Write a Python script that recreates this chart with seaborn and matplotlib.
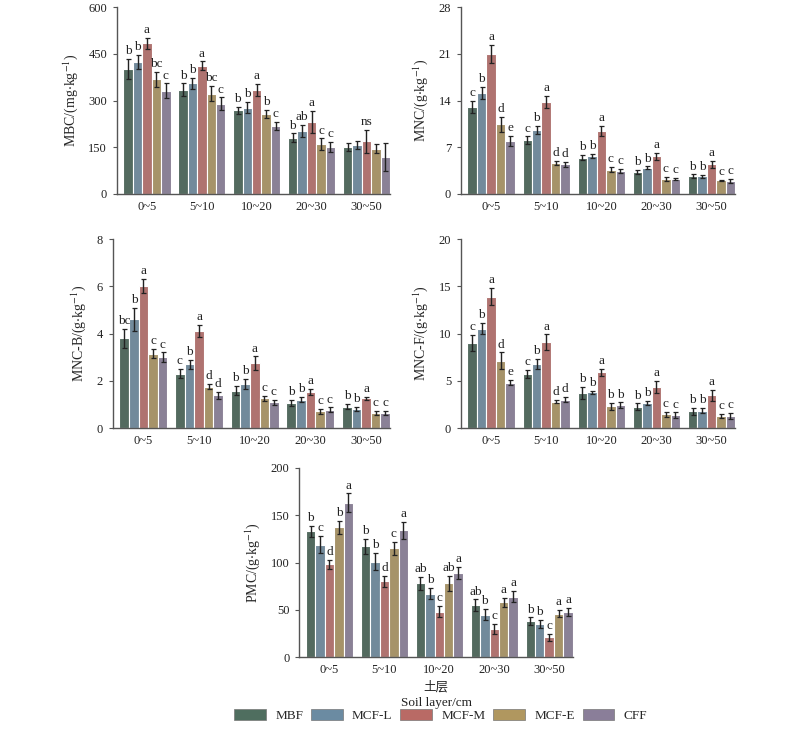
import numpy as np
import pandas as pd
import matplotlib
matplotlib.use('Agg')
import matplotlib.pyplot as plt
import seaborn as sns
from matplotlib.patches import Patch

# ---------------------------------------------------------------------------
# data
# ---------------------------------------------------------------------------
layers = ['0~5', '5~10', '10~20', '20~30', '30~50']
treatments = ['MBF', 'MCF-L', 'MCF-M', 'MCF-E', 'CFF']
colors = ['#4f6e5f', '#6b8ba2', '#b96a65', '#b0975f', '#8a7e99']

# values are [layer][treatment]
mbc = [[402, 425, 484, 368, 332],
       [335, 355, 412, 322, 290],
       [268, 277, 333, 258, 218],
       [180, 202, 231, 160, 150],
       [151, 157, 169, 145, 118]]
mbc_err = [[32, 23, 18, 24, 23],
           [20, 17, 14, 25, 20],
           [12, 18, 20, 13, 14],
           [14, 19, 35, 18, 17],
           [13, 13, 37, 15, 44]]
mbc_sig = [['b', 'b', 'a', 'bc', 'c'],
           ['b', 'b', 'a', 'bc', 'c'],
           ['b', 'b', 'a', 'b', 'c'],
           ['b', 'ab', 'a', 'c', 'c'],
           ['', '', 'ns', '', '']]

mnc = [[13.0, 15.1, 21.0, 10.4, 7.9],
       [8.0, 9.6, 13.8, 4.6, 4.4],
       [5.4, 5.7, 9.4, 3.6, 3.4],
       [3.3, 3.9, 5.6, 2.2, 2.2],
       [2.6, 2.6, 4.4, 2.0, 1.9]]
mnc_err = [[0.9, 0.9, 1.3, 1.1, 0.8],
           [0.6, 0.6, 0.9, 0.3, 0.4],
           [0.4, 0.3, 0.8, 0.4, 0.3],
           [0.3, 0.2, 0.5, 0.3, 0.2],
           [0.3, 0.2, 0.5, 0.1, 0.3]]
mnc_sig = [['c', 'b', 'a', 'd', 'e'],
           ['c', 'b', 'a', 'd', 'd'],
           ['b', 'b', 'a', 'c', 'c'],
           ['b', 'b', 'a', 'c', 'c'],
           ['b', 'b', 'a', 'c', 'c']]

mncb = [[3.8, 4.6, 6.0, 3.15, 3.0],
        [2.3, 2.7, 4.1, 1.75, 1.38],
        [1.58, 1.85, 2.75, 1.25, 1.08],
        [1.05, 1.2, 1.52, 0.7, 0.77],
        [0.9, 0.8, 1.25, 0.65, 0.65]]
mncb_err = [[0.4, 0.5, 0.3, 0.2, 0.2],
            [0.2, 0.2, 0.25, 0.1, 0.15],
            [0.2, 0.22, 0.28, 0.12, 0.1],
            [0.12, 0.12, 0.12, 0.1, 0.1],
            [0.1, 0.08, 0.07, 0.08, 0.08]]
mncb_sig = [['bc', 'b', 'a', 'c', 'c'],
            ['c', 'b', 'a', 'd', 'd'],
            ['b', 'b', 'a', 'c', 'c'],
            ['b', 'b', 'a', 'c', 'c'],
            ['b', 'b', 'a', 'c', 'c']]

mncf = [[9.0, 10.5, 13.9, 7.1, 4.8],
        [5.7, 6.8, 9.1, 2.8, 3.0],
        [3.7, 3.8, 5.9, 2.3, 2.4],
        [2.25, 2.65, 4.35, 1.45, 1.35],
        [1.75, 1.85, 3.45, 1.3, 1.3]]
mncf_err = [[0.85, 0.6, 0.9, 0.9, 0.25],
            [0.45, 0.55, 0.8, 0.2, 0.3],
            [0.6, 0.15, 0.35, 0.35, 0.3],
            [0.35, 0.25, 0.6, 0.25, 0.3],
            [0.35, 0.25, 0.6, 0.2, 0.3]]
mncf_sig = [['c', 'b', 'a', 'd', 'e'],
            ['c', 'b', 'a', 'd', 'd'],
            ['b', 'b', 'a', 'b', 'b'],
            ['b', 'b', 'a', 'c', 'c'],
            ['b', 'b', 'a', 'c', 'c']]

pmc = [[133, 119, 98, 137, 163],
       [117, 101, 80, 115, 134],
       [78, 67, 48, 78, 89],
       [55, 45, 30, 58, 64],
       [38, 35, 21, 46, 48]]
pmc_err = [[6, 9, 5, 7, 10],
           [8, 9, 6, 7, 9],
           [7, 6, 6, 8, 6],
           [6, 6, 5, 5, 6],
           [4, 4, 4, 4, 4]]
pmc_sig = [['b', 'c', 'd', 'b', 'a'],
           ['b', 'b', 'd', 'c', 'a'],
           ['ab', 'b', 'c', 'ab', 'a'],
           ['ab', 'b', 'c', 'a', 'a'],
           ['b', 'b', 'c', 'a', 'a']]

# ---------------------------------------------------------------------------
# style
# ---------------------------------------------------------------------------
sns.set_style('ticks')
plt.rcParams['font.family'] = ['Liberation Serif', 'Noto Sans CJK SC']
plt.rcParams['mathtext.fontset'] = 'stix'
plt.rcParams['font.size'] = 9
plt.rcParams['axes.edgecolor'] = '#555555'
plt.rcParams['axes.linewidth'] = 1.0
plt.rcParams['xtick.color'] = '#555555'
plt.rcParams['ytick.color'] = '#555555'
plt.rcParams['xtick.labelcolor'] = '#222222'
plt.rcParams['ytick.labelcolor'] = '#222222'
plt.rcParams['xtick.labelsize'] = 9
plt.rcParams['ytick.labelsize'] = 9


def to_long(values):
    rows = []
    for i, layer in enumerate(layers):
        for j, tr in enumerate(treatments):
            rows.append({'layer': layer, 'treatment': tr, 'value': values[i][j]})
    return pd.DataFrame(rows)


def draw_panel(ax, values, errors, sig, ymax, yticks, ylabel):
    df = to_long(values)
    sns.barplot(data=df, x='layer', y='value', hue='treatment',
                order=layers, hue_order=treatments, palette=colors,
                width=0.86, errorbar=None, edgecolor='white', linewidth=0.8,
                legend=False, ax=ax)
    off = ymax * 0.01
    bar_groups = list(ax.containers)  # one container per treatment
    for j, cont in enumerate(bar_groups):
        for i, bar in enumerate(cont.patches):
            xc = bar.get_x() + bar.get_width() / 2
            v = values[i][j]
            e = errors[i][j]
            ax.errorbar(xc, v, yerr=e, fmt='none', ecolor='#222222',
                        elinewidth=1.0, capsize=1.8, capthick=0.9)
            if sig[i][j]:
                ax.text(xc, v + e + off, sig[i][j], ha='center', va='bottom',
                        fontsize=9.5, color='#222222')
    ax.set_xlim(-0.55, 4.43)
    ax.set_ylim(0, ymax)
    ax.set_yticks(yticks)
    ax.set_xlabel('')
    ax.set_ylabel(ylabel, fontsize=10, labelpad=6)
    ax.tick_params(axis='x', length=0, pad=5)
    ax.tick_params(axis='y', length=3, direction='out', pad=4)
    sns.despine(ax=ax)


fig = plt.figure(figsize=(8, 7.31), dpi=100)

ax1 = fig.add_axes([0.146, 0.735, 0.3415, 0.255])
ax2 = fig.add_axes([0.576, 0.735, 0.343, 0.255])
ax3 = fig.add_axes([0.141, 0.4145, 0.3465, 0.2585])
ax4 = fig.add_axes([0.576, 0.4145, 0.343, 0.2585])
ax5 = fig.add_axes([0.374, 0.101, 0.342, 0.259])

draw_panel(ax1, mbc, mbc_err, mbc_sig, 600, [0, 150, 300, 450, 600],
           r'MBC/(mg$\cdot$kg$^{-1}$)')
draw_panel(ax2, mnc, mnc_err, mnc_sig, 28, [0, 7, 14, 21, 28],
           r'MNC/(g$\cdot$kg$^{-1}$)')
draw_panel(ax3, mncb, mncb_err, mncb_sig, 8, [0, 2, 4, 6, 8],
           r'MNC-B/(g$\cdot$kg$^{-1}$)')
draw_panel(ax4, mncf, mncf_err, mncf_sig, 20, [0, 5, 10, 15, 20],
           r'MNC-F/(g$\cdot$kg$^{-1}$)')
draw_panel(ax5, pmc, pmc_err, pmc_sig, 200, [0, 50, 100, 150, 200],
           r'PMC/(g$\cdot$kg$^{-1}$)')

fig.text(0.545, 0.060, '土层', ha='center', va='center', fontsize=9,
         family=['Noto Sans CJK SC'], color='#222222')
fig.text(0.545, 0.038, 'Soil layer/cm', ha='center', va='center',
         fontsize=9.5, color='#222222')

handles = [Patch(facecolor=c, edgecolor='#777777', linewidth=0.5) for c in colors]
fig.legend(handles, treatments, loc='center', bbox_to_anchor=(0.551, 0.021),
           ncol=5, frameon=False, fontsize=9.5, handlelength=2.4,
           handleheight=0.85, handletextpad=0.7, columnspacing=0.6)

fig.savefig('out.png', dpi=100)
